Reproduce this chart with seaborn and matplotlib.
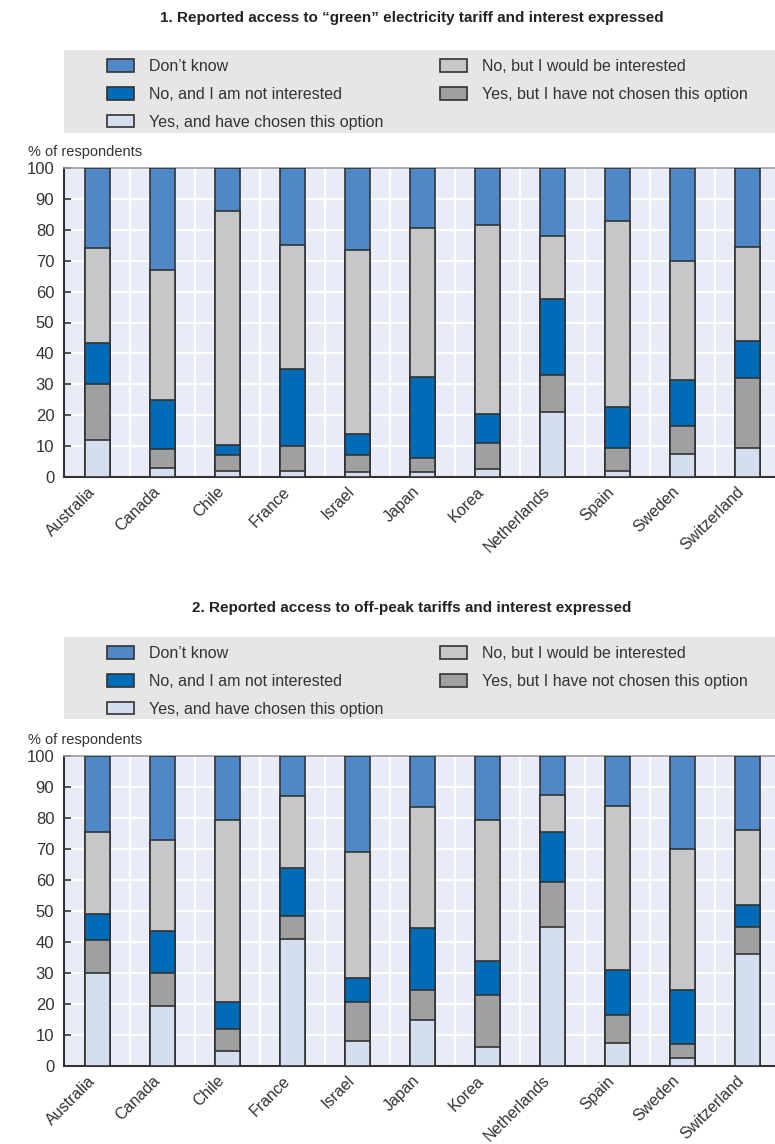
import pandas as pd
import matplotlib.pyplot as plt
import seaborn as sns
from matplotlib.patches import Patch, Rectangle

# countries on the x axis
countries = ["Australia", "Canada", "Chile", "France", "Israel", "Japan",
             "Korea", "Netherlands", "Spain", "Sweden", "Switzerland"]

# stacking order, bottom to top
series_names = ["Yes, and have chosen this option",
                "Yes, but I have not chosen this option",
                "No, and I am not interested",
                "No, but I would be interested",
                "Don\u2019t know"]

series_colors = ["#D4DEEF", "#9FA0A2", "#006BB6", "#C6C7C9", "#4F88C6"]

# panel 1: "green" electricity tariff (% of respondents)
green_chosen = [12, 3, 2, 2, 1.5, 1.5, 2.5, 21, 2, 7.5, 9.5]
green_not_chosen = [18, 6, 5, 8, 5.5, 4.5, 8.5, 12, 7.5, 9, 22.5]
green_not_interested = [13.5, 16, 3.5, 25, 7, 26.5, 9.5, 24.5, 13, 15, 12]
green_interested = [30.5, 42, 75.5, 40, 59.5, 48, 61, 20.5, 60.5, 38.5, 30.5]
green_dont_know = [26, 33, 14, 25, 26.5, 19.5, 18.5, 22, 17, 30, 25.5]

# panel 2: off-peak tariffs (% of respondents)
peak_chosen = [30, 19.5, 5, 41, 8, 15, 6, 45, 7.5, 2.5, 36]
peak_not_chosen = [10.5, 10.5, 7, 7.5, 12.5, 9.5, 17, 14.5, 9, 4.5, 9]
peak_not_interested = [8.5, 13.5, 8.5, 15.5, 8, 20, 11, 16, 14.5, 17.5, 7]
peak_interested = [26.5, 29.5, 59, 23, 40.5, 39, 45.5, 12, 53, 45.5, 24]
peak_dont_know = [24.5, 27, 20.5, 13, 31, 16.5, 20.5, 12.5, 16, 30, 24]

title_1 = "1. Reported access to \u201cgreen\u201d electricity tariff and interest expressed"
title_2 = "2. Reported access to off-peak tariffs and interest expressed"

sns.set_style("white")
plt.rcParams["font.family"] = ["Liberation Sans", "DejaVu Sans"]

TXT = "#333333"
W, H = 775, 1144

fig = plt.figure(figsize=(W / 100, H / 100), dpi=100)


def fx(px):
    return px / W


def fy(py):
    return 1 - py / H


def draw_panel(segs, title, title_y, legend_top, legend_bottom, axis_top, axis_bottom):
    df = pd.DataFrame(dict(zip(series_names, segs)), index=countries)
    cum = df.cumsum(axis=1)

    ax = fig.add_axes([fx(64), fy(axis_bottom), 11 * 64.95 / W, (axis_bottom - axis_top) / H])
    ax.set_facecolor("#E9ECF6")

    # cumulative bars, tallest first so lower layers sit on top
    for name, col in zip(reversed(series_names), reversed(series_colors)):
        sns.barplot(x=countries, y=cum[name].values, color=col, saturation=1,
                    width=0.39, edgecolor="#333333", linewidth=1.2,
                    errorbar=None, ax=ax, zorder=3)

    ax.set_xlim(-0.52, 10.48)
    ax.set_ylim(0, 100)
    ax.set_yticks(range(0, 101, 10))
    ax.set_xticks(range(len(countries)))
    ax.set_xticks([i + 0.5 for i in range(len(countries) - 1)], minor=True)
    ax.set_xticklabels(countries, rotation=45, ha="right", fontsize=11.5, color=TXT)
    ax.tick_params(axis="x", which="major", length=0, pad=5)
    ax.tick_params(axis="x", which="minor", direction="in", length=5, width=1.2, color="#333333")
    ax.tick_params(axis="y", direction="in", length=5, width=1.2, color="#333333",
                   labelsize=12, labelcolor=TXT, pad=7, left=True)
    ax.set_axisbelow(True)
    ax.yaxis.grid(True, color="white", linewidth=1.6)
    ax.xaxis.grid(True, which="minor", color="white", linewidth=1.6)
    ax.xaxis.grid(False, which="major")
    ax.set_xlabel("")
    ax.set_ylabel("")
    for side in ["left", "bottom"]:
        ax.spines[side].set_color("#333333")
        ax.spines[side].set_linewidth(1.5)
    ax.spines["top"].set_color("#9A9A9A")
    ax.spines["top"].set_linewidth(1.2)
    ax.spines["right"].set_visible(False)

    fig.text(fx(28), fy(axis_top - 16), "% of respondents", fontsize=10.5,
             color=TXT, ha="left", va="center")
    fig.text(fx(412), fy(title_y), title, fontsize=11, fontweight="bold",
             color="#222222", ha="center", va="center")

    # legend box
    fig.patches.append(Rectangle((fx(64), fy(legend_bottom)), 1 - fx(64),
                                 (legend_bottom - legend_top) / H,
                                 transform=fig.transFigure, facecolor="#E6E6E6",
                                 edgecolor="none", zorder=0))
    handles = [Patch(facecolor=c, edgecolor="#333333", linewidth=1.2, label=n)
               for n, c in zip(series_names, series_colors)]
    col1 = [handles[4], handles[2], handles[0]]
    col2 = [handles[3], handles[1]]
    for hs, x0 in [(col1, 107), (col2, 440)]:
        fig.legend(handles=hs, loc="upper left",
                   bbox_to_anchor=(fx(x0), fy(legend_top + 9)),
                   frameon=False, fontsize=11.5, handlelength=1.7,
                   handleheight=0.85, handletextpad=0.95, labelspacing=0.8,
                   borderpad=0, borderaxespad=0, labelcolor=TXT)
    return ax


draw_panel([green_chosen, green_not_chosen, green_not_interested,
            green_interested, green_dont_know],
           title_1, 18, 50, 133, 168, 477)
draw_panel([peak_chosen, peak_not_chosen, peak_not_interested,
            peak_interested, peak_dont_know],
           title_2, 608, 637, 719, 756, 1066)

fig.savefig("out.png", dpi=100)
